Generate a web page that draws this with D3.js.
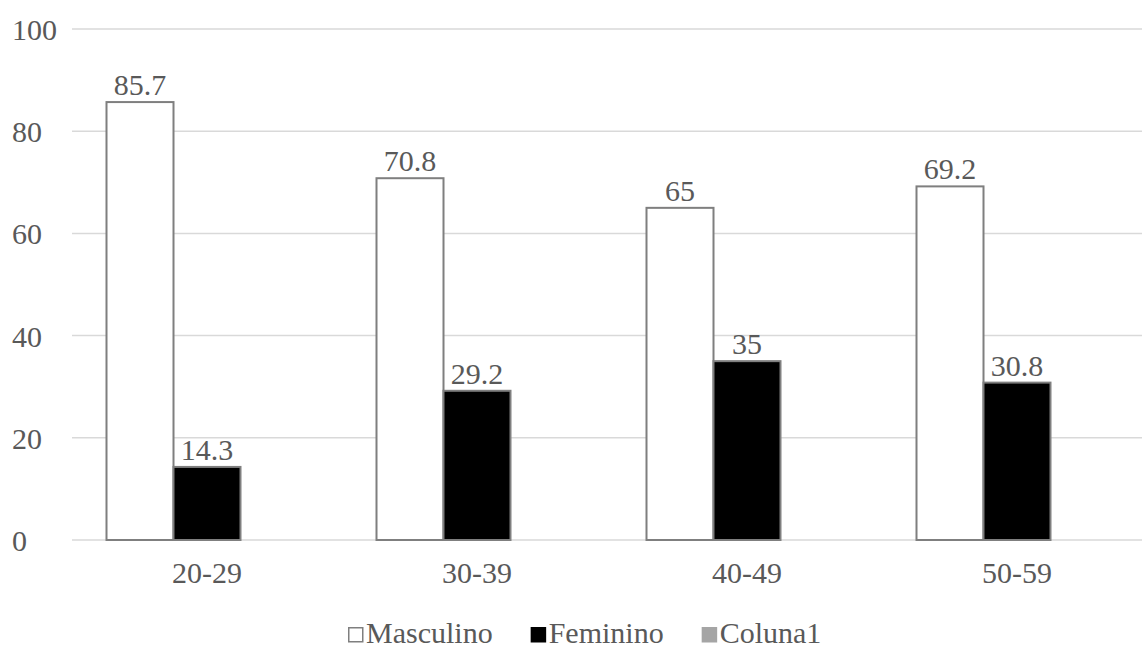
<!DOCTYPE html>
<html>
<head>
    <meta charset="utf-8">
    <title>grouped bars</title>
    <style>
    body { margin: 0; background: #fff; }
    svg text { font-family: 'Liberation Serif', Tinos, 'Times New Roman', Times, 'DejaVu Serif', serif; fill: #595959; font-size: 30px; }
    .grid line { stroke: #d9d9d9; stroke-width: 1.5; }
    </style>
</head>
<body>
    <svg width="1142" height="649"></svg>
    <script src="https://d3js.org/d3.v7.min.js"></script>
    <script>
        var categories = ["20-29", "30-39", "40-49", "50-59"];
        var seriesNames = ["Masculino", "Feminino", "Coluna1"];
        var masculino = [85.7, 70.8, 65, 69.2];
        var feminino = [14.3, 29.2, 35, 30.8];
        var coluna1 = [null, null, null, null];
        var yTicks = [0, 20, 40, 60, 80, 100];

        var fills = {"Masculino": "#ffffff", "Feminino": "#000000", "Coluna1": "#a5a5a5"};
        var strokes = {"Masculino": "#7f7f7f", "Feminino": "#7f7f7f", "Coluna1": "#a5a5a5"};

        var svg = d3.select("svg");

        var x0 = d3.scaleBand().domain(categories).range([72, 1152]);
        var x1 = d3.scaleBand().domain(seriesNames).range([0, x0.bandwidth()]).paddingOuter(0.515);
        var y = d3.scaleLinear().domain([0, 100]).range([540, 29]);

        // gridlines
        svg.append("g").attr("class", "grid")
            .selectAll("line")
            .data(yTicks)
            .enter()
            .append("line")
            .attr("x1", 72)
            .attr("x2", 1142)
            .attr("y1", d => y(d))
            .attr("y2", d => y(d));

        // y tick labels (left aligned like the original)
        svg.append("g")
            .selectAll("text")
            .data(yTicks)
            .enter()
            .append("text")
            .attr("x", 12)
            .attr("y", d => y(d) + 11)
            .text(d => d);

        var rows = categories.map(function(c, i) {
            return {cat: c, values: [
                {name: "Masculino", value: masculino[i]},
                {name: "Feminino", value: feminino[i]},
                {name: "Coluna1", value: coluna1[i]}
            ]};
        });

        var groups = svg.append("g")
            .selectAll("g")
            .data(rows)
            .enter()
            .append("g")
            .attr("transform", d => "translate(" + x0(d.cat) + ",0)");

        var bars = groups.selectAll("g")
            .data(d => d.values.filter(v => v.value != null))
            .enter()
            .append("g");

        bars.append("rect")
            .attr("x", d => x1(d.name))
            .attr("y", d => y(d.value))
            .attr("width", x1.bandwidth())
            .attr("height", d => y(0) - y(d.value))
            .attr("fill", d => fills[d.name])
            .attr("stroke", d => strokes[d.name])
            .attr("stroke-width", 2);

        bars.append("text")
            .attr("x", d => x1(d.name) + x1.bandwidth() / 2)
            .attr("y", d => y(d.value) - 7)
            .attr("text-anchor", "middle")
            .text(d => d.value);

        // category labels
        svg.append("g")
            .selectAll("text")
            .data(categories)
            .enter()
            .append("text")
            .attr("x", d => x0(d) + x0.bandwidth() / 2)
            .attr("y", 583)
            .attr("text-anchor", "middle")
            .text(d => d);

        // legend
        var legend = svg.append("g");
        var lx = 348;
        seriesNames.forEach(function(name) {
            legend.append("rect")
                .attr("x", lx + 0.75)
                .attr("y", 627.75)
                .attr("width", 14)
                .attr("height", 14)
                .attr("fill", fills[name])
                .attr("stroke", name == "Masculino" ? "#7f7f7f" : fills[name])
                .attr("stroke-width", 1.5);
            var t = legend.append("text")
                .attr("x", lx + 18)
                .attr("y", 643)
                .text(name);
            lx += 18 + t.node().getComputedTextLength() + 38;
        });
    </script>
</body>
</html>
